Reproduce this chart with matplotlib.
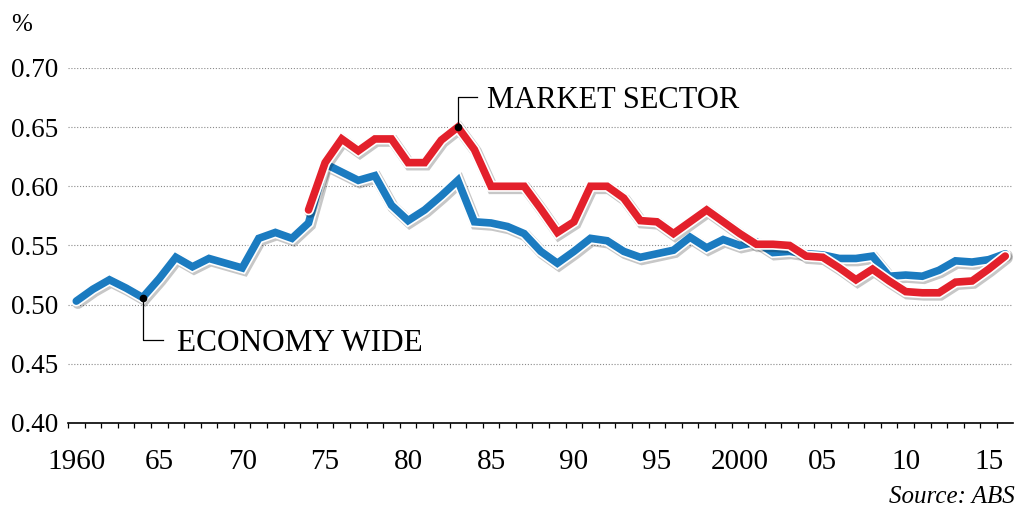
import matplotlib.pyplot as plt
import matplotlib.patheffects as pe
import numpy as np

# Labour share of income, %
years_all = np.arange(1960, 2017)
economy_wide = [0.503, 0.513, 0.521, 0.514, 0.506, 0.522, 0.540, 0.532, 0.539, 0.535,
                0.531, 0.556, 0.561, 0.556, 0.569, 0.619, 0.612, 0.605, 0.609, 0.584,
                0.571, 0.580, 0.592, 0.605, 0.570, 0.569, 0.566, 0.560, 0.545, 0.535,
                0.545, 0.556, 0.554, 0.545, 0.540, 0.543, 0.546, 0.557, 0.548, 0.555,
                0.550, 0.553, 0.544, 0.545, 0.543, 0.542, 0.539, 0.539, 0.541, 0.524,
                0.525, 0.524, 0.529, 0.537, 0.536, 0.538, 0.543]

years_market = np.arange(1974, 2017)
market_sector = [0.580, 0.620, 0.640, 0.630, 0.640, 0.640, 0.620, 0.620, 0.639, 0.650,
                 0.631, 0.600, 0.600, 0.600, 0.581, 0.561, 0.570, 0.600, 0.600, 0.590,
                 0.571, 0.570, 0.560, 0.570, 0.580, 0.570, 0.560, 0.551, 0.551, 0.550,
                 0.541, 0.540, 0.531, 0.521, 0.530, 0.520, 0.511, 0.510, 0.510, 0.519,
                 0.520, 0.530, 0.541]

tick_years = [1960, 1965, 1970, 1975, 1980, 1985, 1990, 1995, 2000, 2005, 2010, 2015]
tick_labels = ['1960', '65', '70', '75', '80', '85', '90', '95', '2000', '05', '10', '15']
y_ticks = [0.40, 0.45, 0.50, 0.55, 0.60, 0.65, 0.70]

blue = '#1b7bc0'
red = '#e3202b'

plt.rcParams['font.family'] = ['Liberation Serif', 'DejaVu Serif']

fig = plt.figure(figsize=(10.18, 5.09), dpi=100)
ax = fig.add_axes([0.0668, 0.169, 0.928, 0.6975])

lw = 5.5
effects = [pe.SimpleLineShadow(offset=(1.2, -1.4), shadow_color='k', alpha=0.22, linewidth=lw + 3),
           pe.Stroke(linewidth=lw + 2.4, foreground='white'),
           pe.Normal()]

ax.plot(years_all, economy_wide, color=blue, lw=lw, solid_joinstyle='miter',
        solid_capstyle='round', path_effects=effects, zorder=3)
ax.plot(years_market, market_sector, color=red, lw=lw, solid_joinstyle='miter',
        solid_capstyle='round', path_effects=effects, zorder=4)

# annotations
pk = int(np.argmax(market_sector))
px, py = years_market[pk], market_sector[pk]
ax.plot([px, px, px + 1.15], [py, 0.6755, 0.6755], color='black', lw=0.9, zorder=5)
ax.plot(px, py, 'o', color='black', ms=4.5, zorder=6)
ax.text(px + 1.75, 0.6725, 'MARKET SECTOR', fontsize=22, va='center', ha='left')

ex, ey = years_all[4], economy_wide[4]
ax.plot([ex, ex, ex + 1.2], [ey, 0.4703, 0.4703], color='black', lw=0.9, zorder=5)
ax.plot(ex, ey, 'o', color='black', ms=4.5, zorder=6)
ax.text(ex + 2.1, 0.4675, 'ECONOMY WIDE', fontsize=22.5, va='center', ha='left')

ax.set_xlim(1959.5, 2016.45)
ax.set_ylim(0.40, 0.70)
ax.set_yticks(y_ticks)
ax.set_yticklabels(['%.2f' % v for v in y_ticks])
ax.set_xticks(tick_years)
ax.set_xticklabels(tick_labels)
ax.set_xticks(np.arange(1959.5, 2016, 1), minor=True)

ax.tick_params(axis='y', length=0, pad=7, labelsize=19.5)
ax.tick_params(axis='x', which='major', length=0, pad=19, labelsize=21)
ax.tick_params(axis='x', which='minor', length=3.5, width=0.9, direction='out')

ax.yaxis.grid(True, linestyle=(0, (1, 1.6)), color='#8a8a8a', linewidth=0.8)
ax.set_axisbelow(True)
for s in ['top', 'right', 'left']:
    ax.spines[s].set_visible(False)
ax.spines['bottom'].set_linewidth(1.2)
ax.spines['bottom'].set_zorder(2)

fig.text(22 / 1018, 1 - 25 / 509, '%', fontsize=18, ha='center', va='center')
fig.text(1015 / 1018, 1 - 497 / 509, 'Source: ABS', fontsize=18, style='italic',
         ha='right', va='center')

fig.savefig('out.png', dpi=100)
